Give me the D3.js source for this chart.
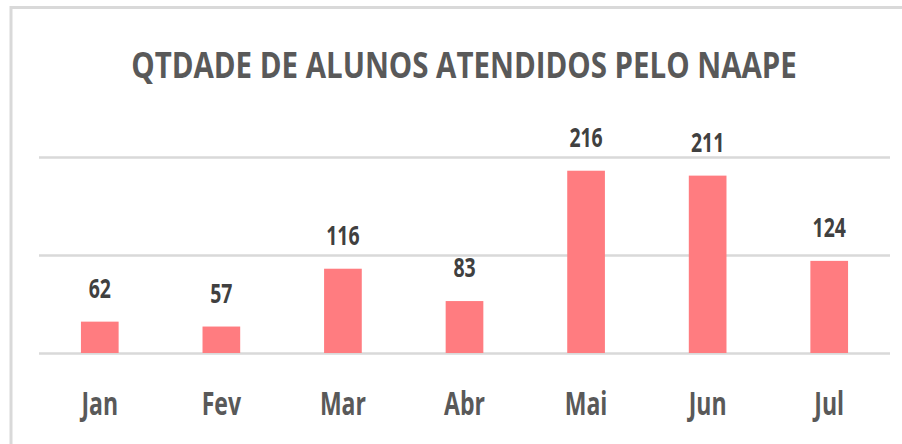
<!DOCTYPE html>
<html>
<head>
<meta charset="utf-8">
<script src="https://cdn.jsdelivr.net/npm/d3@7/dist/d3.min.js"></script>
<style>
  body { margin: 0; background: #fff; }
  svg { display: block; }
</style>
</head>
<body>
<script>
// data
var months = ["Jan", "Fev", "Mar", "Abr", "Mai", "Jun", "Jul"];
var alunos = [62, 57, 116, 83, 216, 211, 124];
var gridTicks = [30, 130, 230];
var titleText = "QTDADE DE ALUNOS ATENDIDOS PELO NAAPE";

var W = 902, H = 444;
var plot = {left: 39, right: 890, top: 157, bottom: 353};
var squeeze = 0.72; // condensed look of the original font

var svg = d3.select("body").append("svg")
	.attr("width", W)
	.attr("height", H);

// chart area border (top and left edges visible)
svg.append("rect")
	.attr("x", 11)
	.attr("y", 7.5)
	.attr("width", W + 20)
	.attr("height", H + 20)
	.attr("fill", "none")
	.attr("stroke", "#d9d9d9")
	.attr("stroke-width", 3);

// scales
var x = d3.scaleBand()
	.domain(months)
	.range([plot.left, plot.right])
	.paddingInner(0.69)
	.paddingOuter(0.345);

var y = d3.scaleLinear()
	.domain([gridTicks[0], gridTicks[gridTicks.length - 1]])
	.range([plot.bottom, plot.top]);

// gridlines
var grid = svg.append("g")
	.attr("transform", "translate(" + plot.left + ",0)")
	.call(d3.axisLeft(y).tickValues(gridTicks).tickSize(-(plot.right - plot.left)).tickFormat(""));
grid.select(".domain").remove();
grid.selectAll(".tick line")
	.attr("stroke", "#d9d9d9")
	.attr("stroke-width", 2.5);

// bars
svg.selectAll(".bar")
	.data(alunos)
	.enter().append("rect")
	.attr("class", "bar")
	.attr("x", (d, i) => x(months[i]))
	.attr("y", (d) => y(d))
	.attr("width", x.bandwidth())
	.attr("height", (d) => y(gridTicks[0]) - y(d))
	.attr("fill", "#ff7c80");

// value labels
svg.selectAll(".val")
	.data(alunos)
	.enter().append("text")
	.attr("class", "val")
	.attr("transform", (d, i) => "translate(" + (x(months[i]) + x.bandwidth() / 2) + "," + (y(d) - 24) + ") scale(" + squeeze + ",1)")
	.attr("text-anchor", "middle")
	.attr("font-family", "'Open Sans', sans-serif")
	.attr("font-weight", "bold")
	.attr("font-size", 27)
	.attr("fill", "#404040")
	.text((d) => d);

// x axis
var xAxis = svg.append("g")
	.attr("transform", "translate(0,415)")
	.call(d3.axisBottom(x).tickSize(0).tickPadding(0));
xAxis.select(".domain").remove();
xAxis.selectAll(".tick text")
	.attr("dy", 0)
	.attr("y", 0)
	.attr("transform", "scale(" + squeeze + ",1)")
	.attr("font-family", "'Open Sans', sans-serif")
	.attr("font-weight", "bold")
	.attr("font-size", 32)
	.attr("fill", "#595959");

// title, squeezed to the width it has in the original
var title = svg.append("text")
	.attr("text-anchor", "middle")
	.attr("font-family", "'Open Sans', sans-serif")
	.attr("font-weight", "bold")
	.attr("font-size", 35)
	.attr("fill", "#595959")
	.text(titleText);
var tw = title.node().getComputedTextLength();
title.attr("transform", "translate(464,77.5) scale(" + (666 / tw) + ",1)");
</script>
</body>
</html>
